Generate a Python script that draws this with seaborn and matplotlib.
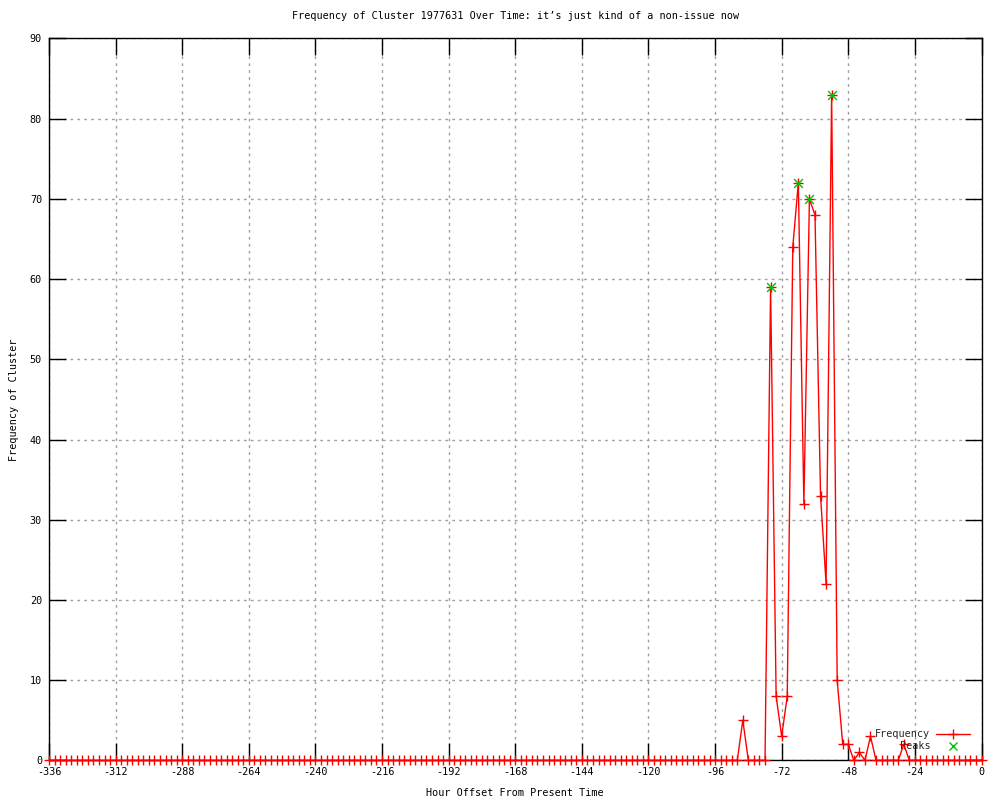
import numpy as np
import matplotlib
matplotlib.use("Agg")
import matplotlib.pyplot as plt
import seaborn as sns
import pandas as pd
from matplotlib.lines import Line2D

# ---- data ----
hours = list(range(-336, 1, 2))
frequency = (
    [0] * 125 +                       # -336 .. -88
    [5, 0, 0, 0, 0,                   # -86 .. -78
     59, 8, 3, 8, 64, 72, 32, 70,     # -76 .. -62
     68, 33, 22, 83, 10, 2, 2, 0,     # -60 .. -46
     1, 0, 3, 0, 0, 0, 0, 0,          # -44 .. -30
     2, 0, 0, 0, 0, 0, 0, 0,          # -28 .. -14
     0, 0, 0, 0, 0, 0, 0]             # -12 .. 0
)
peak_hours = [-76, -66, -62, -54]
peak_values = [59, 72, 70, 83]

x_ticks = list(range(-336, 1, 24))
y_ticks = list(range(0, 91, 10))

title = "Frequency of Cluster 1977631 Over Time: it\u2019s just kind of a non-issue now"
xlabel = "Hour Offset From Present Time"
ylabel = "Frequency of Cluster"

df = pd.DataFrame({"hour": hours, "freq": frequency})
peaks = pd.DataFrame({"hour": peak_hours, "freq": peak_values})

# ---- style ----
sns.set_theme(style="white")
plt.rcParams["font.family"] = ["DejaVu Sans Mono"]
plt.rcParams["axes.unicode_minus"] = False
FS = 7.3

fig = plt.figure(figsize=(10, 8), dpi=100)
ax = fig.add_axes([0.049, 0.0495, 0.9325, 0.9025])

sns.lineplot(data=df, x="hour", y="freq", ax=ax, color="red", linewidth=1,
             marker="+", markersize=7, markeredgewidth=1, markeredgecolor="red",
             zorder=3, clip_on=False)
sns.scatterplot(data=peaks, x="hour", y="freq", ax=ax, color="#00c000",
                marker="x", s=40, linewidth=1, zorder=4, clip_on=False)

ax.set_xlim(-336, 0)
ax.set_ylim(0, 90)
ax.set_xticks(x_ticks)
ax.set_yticks(y_ticks)
ax.set_xticklabels([str(t) for t in x_ticks], fontsize=FS)
ax.set_yticklabels([str(t) for t in y_ticks], fontsize=FS)
ax.tick_params(axis="both", direction="in", length=12, width=1, color="black",
               top=True, right=True, bottom=True, left=True,
               labelcolor="black", pad=5)
ax.grid(True, color="#a0a0a0", linestyle=(0, (2, 3)), linewidth=1)
for s in ax.spines.values():
    s.set_color("black")
    s.set_linewidth(1)
    s.set_visible(True)

ax.set_title(title, fontsize=FS, pad=14, color="black")
ax.set_xlabel(xlabel, fontsize=FS, labelpad=8, color="black")
ax.set_ylabel(ylabel, fontsize=FS, labelpad=8, color="black")

handles = [
    Line2D([], [], color="red", linewidth=1, marker="+", markersize=7,
           markeredgewidth=1),
    Line2D([], [], color="#00c000", linestyle="none", marker="x", markersize=6,
           markeredgewidth=1),
]
leg = ax.legend(handles, ["Frequency", "Peaks"], loc="lower right",
                bbox_to_anchor=(0.995, 0.003), frameon=False, fontsize=FS,
                markerfirst=False, handlelength=3.3, handletextpad=0.6,
                labelspacing=0.2, borderpad=0.2, numpoints=1)

fig.savefig("out.png", dpi=100, facecolor="white")
